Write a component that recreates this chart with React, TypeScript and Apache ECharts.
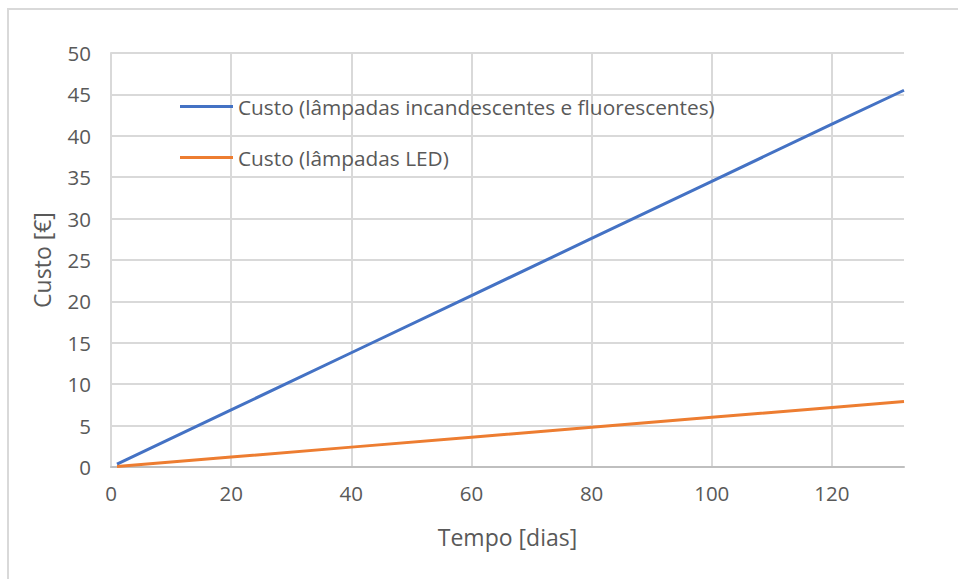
import React, { useEffect, useRef } from "react";
import * as echarts from "echarts";

const days = [1, 20, 40, 60, 80, 100, 120, 132];
const costIncandescent = [0.35, 6.9, 13.8, 20.7, 27.6, 34.5, 41.4, 45.5];
const costLed = [0.06, 1.2, 2.4, 3.6, 4.8, 6.0, 7.2, 7.9];
const seriesNames = [
  "Custo (lâmpadas incandescentes e fluorescentes)",
  "Custo (lâmpadas LED)",
];
const xName = "Tempo [dias]";
const yName = "Custo [€]";

const FONT = "'Open Sans', 'Noto Sans', sans-serif";
const TEXT = "#595959";

export default function App() {
  const ref = useRef<HTMLDivElement>(null);
  useEffect(() => {
    if (!ref.current) return;
    const chart = echarts.init(ref.current, undefined, { renderer: "svg" });
    chart.setOption({
      animation: false,
      backgroundColor: "#ffffff",
      textStyle: { fontFamily: FONT },
      graphic: [
        {
          type: "rect",
          shape: { x: 8, y: 9, width: 960, height: 600 },
          style: { fill: "none", stroke: "#d9d9d9", lineWidth: 2 },
          silent: true,
        },
      ],
      grid: { left: 111, right: 54, top: 53, bottom: 112 },
      legend: {
        left: 175,
        top: 91,
        orient: "vertical",
        itemGap: 30,
        itemWidth: 53,
        itemHeight: 3,
        icon: "rect",
        textStyle: { color: TEXT, fontSize: 20.8, fontFamily: FONT },
        data: seriesNames,
      },
      xAxis: {
        type: "value",
        min: 0,
        max: 132,
        interval: 20,
        name: xName,
        nameLocation: "middle",
        nameGap: 58,
        nameTextStyle: { color: TEXT, fontSize: 23, fontFamily: FONT },
        axisLine: { show: true, lineStyle: { color: "#bfbfbf", width: 2 } },
        axisTick: { show: false },
        axisLabel: { color: TEXT, fontSize: 20.5, margin: 15, showMaxLabel: false, fontFamily: FONT },
        splitLine: { show: true, showMaxLine: false, lineStyle: { color: "#d9d9d9", width: 2 } },
      },
      yAxis: {
        type: "value",
        min: 0,
        max: 50,
        interval: 5,
        name: yName,
        nameLocation: "middle",
        nameGap: 58,
        nameTextStyle: { color: TEXT, fontSize: 23, fontFamily: FONT },
        axisLine: { show: true, lineStyle: { color: "#d9d9d9", width: 2 } },
        axisTick: { show: false },
        axisLabel: { color: TEXT, fontSize: 20.5, margin: 20, fontFamily: FONT },
        splitLine: { show: true, lineStyle: { color: "#d9d9d9", width: 2 } },
      },
      series: [
        {
          name: seriesNames[0],
          type: "line",
          data: days.map((d, i) => [d, costIncandescent[i]]),
          showSymbol: false,
          symbol: "none",
          lineStyle: { color: "#4472C4", width: 3 },
          itemStyle: { color: "#4472C4" },
        },
        {
          name: seriesNames[1],
          type: "line",
          data: days.map((d, i) => [d, costLed[i]]),
          showSymbol: false,
          symbol: "none",
          lineStyle: { color: "#ED7D31", width: 3 },
          itemStyle: { color: "#ED7D31" },
        },
      ],
    });
    return () => chart.dispose();
  }, []);
  return (
    <div
      ref={ref}
      style={{ position: "fixed", left: 0, top: 0, width: 958, height: 579 }}
    />
  );
}
